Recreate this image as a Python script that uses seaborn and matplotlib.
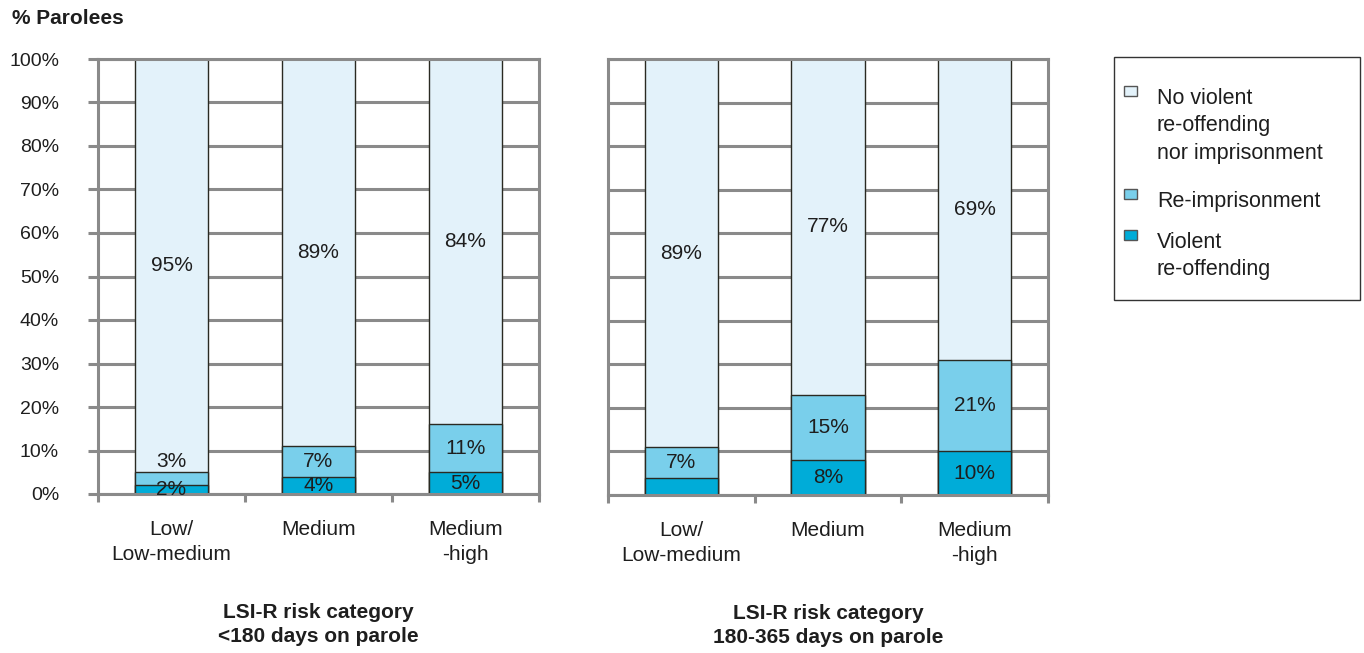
import pandas as pd
import matplotlib.pyplot as plt
import seaborn as sns
from matplotlib.patches import Rectangle

categories = ["Low/\nLow-medium", "Medium", "Medium\n-high"]
panel_titles = ["LSI-R risk category\n<180 days on parole",
                "LSI-R risk category\n180-365 days on parole"]
violent = [[2, 4, 5], [4, 8, 10]]
reimprisonment = [[3, 7, 11], [7, 15, 21]]
no_violent = [[95, 89, 84], [89, 77, 69]]
# the violent segment of the low-risk bar in the right panel has no label
violent_labelled = [[True, True, True], [False, True, True]]
series_names = ["No violent\nre-offending\nnor imprisonment", "Re-imprisonment",
                "Violent\nre-offending"]

plt.rcParams["font.family"] = ["Liberation Sans", "DejaVu Sans"]
c_none = "#E3F2FA"
c_reimp = "#79CFEB"
c_viol = "#00ACD8"
grid_col = "#8A8A8A"
edge_col = "#2A2A22"
txt_col = "#1E1E1E"
fs = 15

fig = plt.figure(figsize=(13.64, 6.53), dpi=100)
W, H = 1364, 653
ax1 = fig.add_axes([98 / W, 1 - 494 / H, 441 / W, 435 / H])
ax2 = fig.add_axes([608 / W, 1 - 495 / H, 440 / W, 436 / H])

for p, ax in enumerate([ax1, ax2]):
    df = pd.DataFrame({
        "cat": categories,
        "viol": violent[p],
        "reimp": reimprisonment[p],
        "none": no_violent[p],
    })
    df["top_reimp"] = df["viol"] + df["reimp"]
    df["top_all"] = df["top_reimp"] + df["none"]

    # stacked bars: draw the totals first, then overlay the lower segments
    for col, c in [("top_all", c_none), ("top_reimp", c_reimp), ("viol", c_viol)]:
        sns.barplot(data=df, x="cat", y=col, color=c, saturation=1, width=0.5,
                    edgecolor=edge_col, linewidth=1, order=categories, ax=ax)

    for i, row in df.iterrows():
        ax.text(i, row["top_reimp"] + row["none"] / 2, f"{row['none']}%",
                ha="center", va="center", fontsize=fs, color=txt_col)
        if row["reimp"] < 5:
            ax.text(i, row["top_reimp"] + 0.2, f"{row['reimp']}%",
                    ha="center", va="bottom", fontsize=fs, color=txt_col)
        else:
            ax.text(i, row["viol"] + row["reimp"] / 2, f"{row['reimp']}%",
                    ha="center", va="center", fontsize=fs, color=txt_col)
        if violent_labelled[p][i]:
            ax.text(i, row["viol"] / 2, f"{row['viol']}%",
                    ha="center", va="center", fontsize=fs, color=txt_col)

    ax.set_xlim(-0.5, 2.5)
    ax.set_ylim(0, 100)
    ax.set_yticks(range(0, 101, 10))
    ax.yaxis.grid(True, color=grid_col, linewidth=2.2)
    ax.set_axisbelow(True)
    for s in ax.spines.values():
        s.set_color(grid_col)
        s.set_linewidth(2.2)

    ax.set_xticks([-0.5, 0.5, 1.5, 2.5], minor=True)
    ax.tick_params(axis="x", which="minor", length=6, width=2.2, color=grid_col)
    ax.tick_params(axis="x", which="major", length=0, pad=19, labelsize=fs,
                   labelcolor=txt_col)
    for lbl in ax.get_xticklabels():
        lbl.set_linespacing(1.4)
    ax.set_xlabel(panel_titles[p], fontsize=fs, fontweight="bold", labelpad=28,
                  color=txt_col, linespacing=1.3)
    ax.set_ylabel("")

    if p == 0:
        ax.yaxis.set_major_formatter(plt.FuncFormatter(lambda v, pos: f"{v:.0f}%"))
        ax.tick_params(axis="y", length=7, width=2.2, color=grid_col, pad=21,
                       labelsize=14, labelcolor=txt_col)
    else:
        ax.tick_params(axis="y", length=0, labelleft=False)

fig.text(12 / W, 1 - 18 / H, "% Parolees", fontsize=fs, fontweight="bold",
         va="center", color=txt_col)

# legend box drawn by hand so the swatches sit on the first text line
fig.add_artist(Rectangle((1114 / W, 1 - 300 / H), 246 / W, 243 / H,
                         transform=fig.transFigure, facecolor="white",
                         edgecolor="#333333", linewidth=1))
entry_y = [91, 194, 235]
for name, c, y in zip(series_names, [c_none, c_reimp, c_viol], entry_y):
    fig.add_artist(Rectangle((1124 / W, 1 - (y + 5) / H), 13 / W, 10 / H,
                             transform=fig.transFigure, facecolor=c,
                             edgecolor="#555555", linewidth=1))
    fig.text(1157 / W, 1 - (y - 3) / H, name, fontsize=15.5, va="top",
             linespacing=1.4, color=txt_col)

fig.savefig("out.png", dpi=100)
